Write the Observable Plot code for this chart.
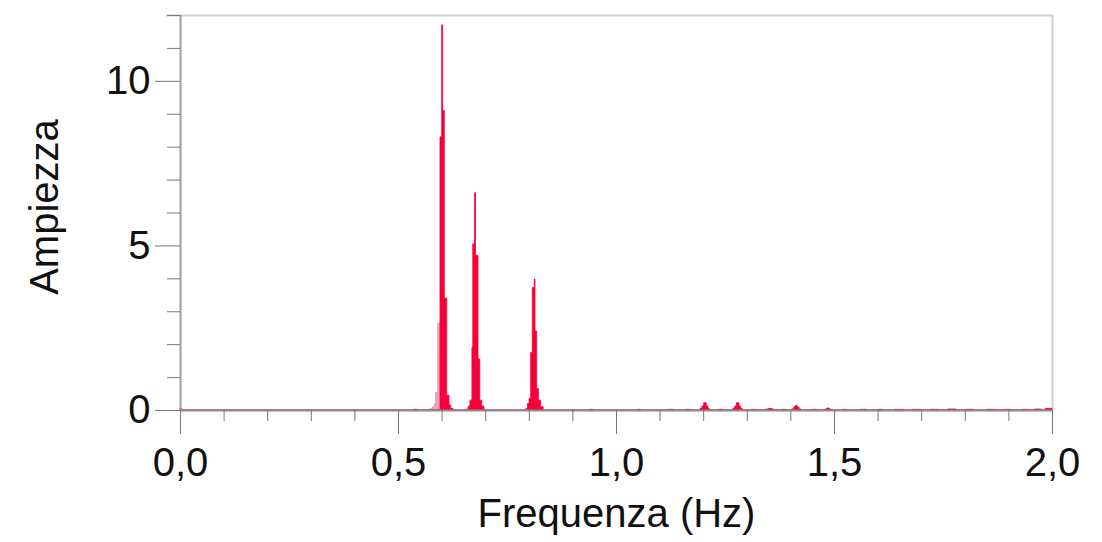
<!DOCTYPE html>
<html>
<head>
<meta charset="utf-8">
<script src="https://cdn.jsdelivr.net/npm/d3@7"></script>
<script src="https://cdn.jsdelivr.net/npm/@observablehq/plot@0.6"></script>
<style>
  html, body { margin: 0; padding: 0; background: #fff; }
  #chart svg { display: block; }
</style>
</head>
<body>
<div id="chart"></div>
<script>
// Spectrum bins: left edge frequency (Hz) and amplitude (step-after)
const freq = [
  0.000, 0.004,
  0.535, 0.545,
  0.5963, 0.6002, 0.6025, 0.6062, 0.6117, 0.617, 0.621, 0.626,
  0.657, 0.661, 0.665, 0.6695, 0.6715, 0.6755, 0.6778, 0.6835, 0.6875, 0.692, 0.697,
  0.793, 0.797, 0.8005, 0.8043, 0.808, 0.8126, 0.8142, 0.818, 0.822, 0.827, 0.833,
  0.940, 0.946, 1.050, 1.056, 1.120, 1.130, 1.160, 1.170,
  1.193, 1.197, 1.201, 1.207, 1.211, 1.215,
  1.235, 1.245,
  1.268, 1.272, 1.276, 1.282, 1.286, 1.290,
  1.310, 1.320,
  1.343, 1.350, 1.357, 1.362,
  1.380, 1.390,
  1.404, 1.408, 1.411, 1.416, 1.420, 1.424,
  1.450, 1.460,
  1.479, 1.484, 1.489, 1.493,
  1.520, 1.530, 1.560, 1.575, 1.600, 1.612, 1.640, 1.660, 1.680, 1.700,
  1.720, 1.740, 1.760, 1.780, 1.800, 1.820, 1.850, 1.870, 1.890, 1.905,
  1.930, 1.945, 1.960, 1.975, 1.985, 2.000
];
const amp = [
  0.04, 0,
  0.02, 0,
  8.3, 11.7, 9.1, 3.4, 0.45, 0.15, 0.05, 0,
  0.03, 0.12, 0.3, 1.9, 5.05, 6.6, 4.7, 1.55, 0.3, 0.12, 0,
  0.04, 0.2, 0.35, 1.75, 3.72, 3.98, 2.4, 0.65, 0.3, 0.1, 0,
  0.02, 0, 0.02, 0, 0.02, 0, 0.02, 0,
  0.05, 0.12, 0.22, 0.12, 0.04, 0,
  0.02, 0,
  0.05, 0.12, 0.22, 0.12, 0.04, 0,
  0.02, 0,
  0.03, 0.05, 0.03, 0,
  0.02, 0,
  0.04, 0.1, 0.14, 0.08, 0.03, 0,
  0.02, 0,
  0.03, 0.06, 0.03, 0,
  0.02, 0, 0.02, 0, 0.02, 0, 0.02, 0, 0.02, 0,
  0.02, 0, 0.03, 0, 0.02, 0, 0.02, 0, 0.02, 0,
  0.02, 0, 0.03, 0, 0.05, 0.05
];
// Lighter (pink) left flank of the main peak
const pinkFreq = [0.565, 0.572, 0.578, 0.582, 0.585, 0.590, 0.5963];
const pinkAmp  = [0.02, 0.05, 0.1, 0.2, 0.55, 2.65, 0];

const xMajor = [0, 0.5, 1.0, 1.5, 2.0];
const xMinor = [0.1, 0.2, 0.3, 0.4, 0.6, 0.7, 0.8, 0.9, 1.1, 1.2, 1.3, 1.4, 1.6, 1.7, 1.8, 1.9];
const yMajor = [0, 5, 10];
const yMinor = [1, 2, 3, 4, 6, 7, 8, 9, 11, 12];

const xLabel = "Frequenza (Hz)";
const yLabel = "Ampiezza";

const spectrum = freq.map((f, i) => ({f, a: amp[i]}));
const flank = pinkFreq.map((f, i) => ({f, a: pinkAmp[i]}));

const fmt = d => d.toFixed(1).replace(".", ",");
const FS = 40;
const red = "#f7003a";

const chart = Plot.plot({
  width: 1102,
  height: 542,
  marginLeft: 180,
  marginRight: 50,
  marginTop: 15,
  marginBottom: 132,
  style: { fontFamily: "'Liberation Sans', Arial, sans-serif", background: "#fff", color: "#111" },
  x: { domain: [0, 2] },
  y: { domain: [0, 12] },
  marks: [
    // frame (top / right)
    Plot.ruleY([12], { stroke: "#cfcfcf", strokeWidth: 2, x1: 0, x2: 2, insetLeft: -14 }),
    Plot.ruleX([2], { stroke: "#cfcfcf", strokeWidth: 2, y1: 0, y2: 12 }),
    // spectrum
    Plot.areaY(flank, { x: "f", y: "a", curve: "step-after", fill: "#e9a0b4" }),
    Plot.areaY(spectrum, { x: "f", y: "a", curve: "step-after", fill: red, stroke: red, strokeWidth: 0.8 }),
    // axis lines
    Plot.ruleX([0], { stroke: "#a0a0a0", strokeWidth: 2, y1: 0, y2: 12 }),
    Plot.ruleY([0], { stroke: "#8c8c8c", strokeWidth: 2, x1: 0, x2: 2 }),
    // x ticks
    Plot.axisX(xMinor, { tickSize: 11, tickFormat: () => "", stroke: "#777", label: null }),
    Plot.axisX(xMajor, { tickSize: 24, tickPadding: 13, tickFormat: fmt, fontSize: FS, stroke: "#777", fill: "#111", label: null }),
    // y ticks
    Plot.axisY(yMinor, { tickSize: 13, tickFormat: () => "", stroke: "#777", label: null }),
    Plot.axisY(yMajor, { tickSize: 25, tickPadding: 5, tickFormat: d => String(d), fontSize: FS, stroke: "#777", fill: "#111", label: null }),
    // axis titles
    Plot.text([xLabel], { frameAnchor: "bottom", dy: 116, fontSize: FS, fill: "#111", textAnchor: "middle" }),
    Plot.text([yLabel], { frameAnchor: "left", rotate: -90, dx: -135, dy: -6, fontSize: FS, fill: "#111", textAnchor: "middle" })
  ]
});

document.getElementById("chart").appendChild(chart);
</script>
</body>
</html>
